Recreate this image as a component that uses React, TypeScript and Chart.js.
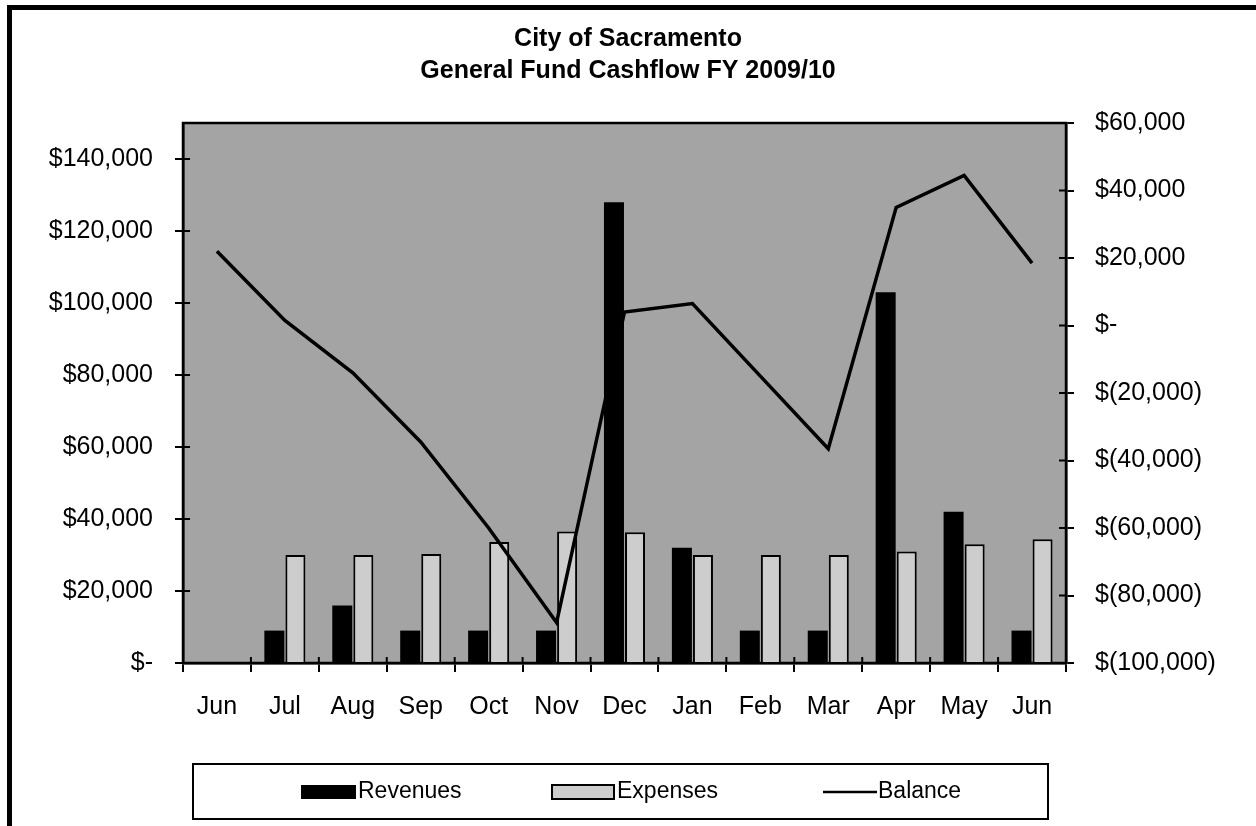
import React, { useEffect, useRef } from "react";
import { Chart, registerables } from "chart.js";

Chart.register(...registerables);

const months = ["Jun", "Jul", "Aug", "Sep", "Oct", "Nov", "Dec", "Jan", "Feb", "Mar", "Apr", "May", "Jun"];
const revenues = [null, 9000, 16000, 9000, 9000, 9000, 128000, 32000, 9000, 9000, 103000, 42000, 9000];
const expenses = [null, 30000, 30000, 30300, 33600, 36500, 36300, 30000, 30000, 30000, 31000, 33000, 34400];
const balance = [22000, 1500, -14000, -34500, -60000, -88000, 4000, 6500, -15000, -36500, 35000, 44500, 18500];
const leftTicks = [0, 20000, 40000, 60000, 80000, 100000, 120000, 140000];
const rightTicks = [-100000, -80000, -60000, -40000, -20000, 0, 20000, 40000, 60000];
const titleLines = ["City of Sacramento", "General Fund Cashflow FY 2009/10"];
const seriesNames = ["Revenues", "Expenses", "Balance"];

const FONT = "'Liberation Sans', Arial, sans-serif";
const W = 1256;
const H = 826;

function fmtLeft(v: number): string {
  if (v === 0) return "$-";
  return "$" + Math.abs(v).toLocaleString("en-US");
}
function fmtRight(v: number): string {
  if (v === 0) return "$-";
  const s = Math.abs(v).toLocaleString("en-US");
  return v < 0 ? "$(" + s + ")" : "$" + s;
}

const framePlugin = {
  id: "framePlugin",
  beforeDraw(chart: any) {
    const { ctx, chartArea } = chart;
    ctx.save();
    ctx.fillStyle = "#ffffff";
    ctx.fillRect(0, 0, chart.width, chart.height);
    ctx.fillStyle = "#a4a4a4";
    ctx.fillRect(chartArea.left, chartArea.top, chartArea.right - chartArea.left, chartArea.bottom - chartArea.top);
    ctx.restore();
  },
  beforeDatasetsDraw(chart: any) {
    const { ctx, chartArea, scales } = chart;
    ctx.save();
    ctx.strokeStyle = "#000";
    ctx.lineWidth = 2.5;
    ctx.strokeRect(chartArea.left, chartArea.top, chartArea.right - chartArea.left, chartArea.bottom - chartArea.top);
    // inner halves of the crossing tick marks
    ctx.lineWidth = 2;
    ctx.beginPath();
    for (const t of scales.y.ticks) {
      const py = scales.y.getPixelForValue(t.value);
      ctx.moveTo(chartArea.left, py);
      ctx.lineTo(chartArea.left + 7, py);
    }
    for (const t of scales.y1.ticks) {
      const py = scales.y1.getPixelForValue(t.value);
      ctx.moveTo(chartArea.right, py);
      ctx.lineTo(chartArea.right - 7, py);
    }
    const n = chart.data.labels.length;
    const step = (chartArea.right - chartArea.left) / n;
    for (let i = 1; i < n; i++) {
      const px = chartArea.left + i * step;
      ctx.moveTo(px, chartArea.bottom);
      ctx.lineTo(px, chartArea.bottom - 6);
    }
    ctx.stroke();
    ctx.restore();
  },
  afterDraw(chart: any) {
    const { ctx } = chart;
    ctx.save();
    // outer frame (left and top edges)
    ctx.fillStyle = "#000";
    ctx.fillRect(7, 5, 5, H - 5);
    ctx.fillRect(7, 5, W - 7, 5);

    // legend frame
    ctx.strokeStyle = "#000";
    ctx.lineWidth = 2;
    ctx.strokeRect(193, 764, 855, 55);

    const cy = 792;
    ctx.font = `23px ${FONT}`;
    ctx.textBaseline = "middle";
    ctx.textAlign = "left";
    ctx.fillStyle = "#000";
    const ds = chart.data.datasets;
    // Revenues swatch
    ctx.fillStyle = ds[0].backgroundColor;
    ctx.fillRect(301, cy - 7, 55, 14);
    ctx.fillStyle = "#000";
    ctx.fillText(ds[0].label, 358, cy);
    // Expenses swatch
    ctx.fillStyle = ds[1].backgroundColor;
    ctx.fillRect(552, cy - 7, 62, 14);
    ctx.strokeStyle = "#000";
    ctx.lineWidth = 2;
    ctx.strokeRect(552, cy - 7, 62, 14);
    ctx.fillStyle = "#000";
    ctx.fillText(ds[1].label, 617, cy);
    // Balance line
    ctx.strokeStyle = ds[2].borderColor;
    ctx.lineWidth = 2.5;
    ctx.beginPath();
    ctx.moveTo(823, cy);
    ctx.lineTo(877, cy);
    ctx.stroke();
    ctx.fillText(ds[2].label, 878, cy);
    ctx.restore();
  },
};

export default function App() {
  const canvasRef = useRef<HTMLCanvasElement | null>(null);

  useEffect(() => {
    const canvas = canvasRef.current;
    if (!canvas) return;
    const axisGrid = {
      display: true,
      drawOnChartArea: false,
      drawTicks: true,
      tickLength: 8,
      color: "#000",
      lineWidth: 2,
    };
    const chart = new Chart(canvas, {
      type: "bar",
      data: {
        labels: months,
        datasets: [
          {
            type: "bar",
            label: seriesNames[0],
            data: revenues,
            backgroundColor: "#000000",
            borderColor: "#000000",
            borderWidth: 0,
            yAxisID: "y",
            order: 2,
            categoryPercentage: 0.62,
            barPercentage: 0.95,
          },
          {
            type: "bar",
            label: seriesNames[1],
            data: expenses,
            backgroundColor: "#cdcdcd",
            borderColor: "#000000",
            borderWidth: 2,
            yAxisID: "y",
            order: 2,
            categoryPercentage: 0.62,
            barPercentage: 0.95,
          },
          {
            type: "line",
            label: seriesNames[2],
            data: balance,
            borderColor: "#000000",
            backgroundColor: "#000000",
            borderWidth: 3.5,
            pointRadius: 0,
            tension: 0,
            fill: false,
            yAxisID: "y1",
            order: 0,
          },
        ],
      } as any,
      options: {
        responsive: false,
        animation: false,
        devicePixelRatio: 1,
        layout: { padding: 0 },
        plugins: {
          legend: { display: false },
          tooltip: { enabled: false },
          title: {
            display: true,
            text: titleLines,
            color: "#000",
            font: { family: FONT, size: 25, weight: "bold", lineHeight: 1.28 },
            padding: { top: 23, bottom: 36 },
          },
        },
        scales: {
          x: {
            type: "category",
            offset: true,
            grid: { ...axisGrid, offset: true, tickLength: 9 },
            border: { display: true, color: "#000", width: 2.5 },
            ticks: {
              color: "#000",
              padding: 20,
              font: { family: FONT, size: 25 },
              maxRotation: 0,
              autoSkip: false,
            },
            afterFit: (s: any) => {
              s.height = 163;
            },
          },
          y: {
            type: "linear",
            position: "left",
            min: 0,
            max: 150000,
            grid: axisGrid,
            border: { display: true, color: "#000", width: 2.5 },
            ticks: {
              color: "#000",
              padding: 22,
              font: { family: FONT, size: 25 },
              callback: (v: any) => fmtLeft(Number(v)),
            },
            afterBuildTicks: (s: any) => {
              s.ticks = leftTicks.map((v) => ({ value: v }));
            },
            afterFit: (s: any) => {
              s.width = 183;
            },
          },
          y1: {
            type: "linear",
            position: "right",
            min: -100000,
            max: 60000,
            grid: axisGrid,
            border: { display: true, color: "#000", width: 2.5 },
            ticks: {
              color: "#000",
              padding: 21,
              font: { family: FONT, size: 25 },
              callback: (v: any) => fmtRight(Number(v)),
            },
            afterBuildTicks: (s: any) => {
              s.ticks = rightTicks.map((v) => ({ value: v }));
            },
            afterFit: (s: any) => {
              s.width = 190;
            },
          },
        },
      } as any,
      plugins: [framePlugin],
    });
    return () => chart.destroy();
  }, []);

  return (
    <div style={{ position: "absolute", left: 0, top: 0, width: W, height: H, background: "#fff" }}>
      <canvas ref={canvasRef} width={W} height={H} style={{ display: "block", width: W, height: H }} />
    </div>
  );
}
